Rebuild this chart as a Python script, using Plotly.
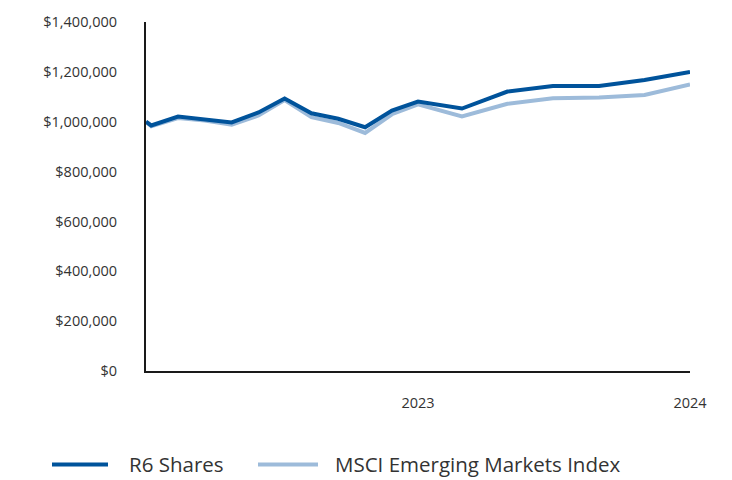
import plotly.graph_objects as go

dates = ["2022-01-01", "2022-01-08", "2022-02-13", "2022-03-21", "2022-04-26",
         "2022-06-01", "2022-07-06", "2022-08-11", "2022-09-16", "2022-10-22",
         "2022-11-27", "2023-01-01", "2023-03-01", "2023-05-01", "2023-07-01",
         "2023-09-01", "2023-11-01", "2024-01-01"]
r6_shares = [1000000, 985000, 1021000, 1010000, 997000, 1037000, 1093000, 1034000,
             1012000, 978000, 1045000, 1081000, 1053000, 1121000, 1143000, 1143000,
             1167000, 1200000]
msci_em = [1000000, 982000, 1015000, 1005000, 988000, 1025000, 1087000, 1018000,
           995000, 955000, 1030000, 1070000, 1021000, 1072000, 1094000, 1097000,
           1107000, 1149000]
y_ticks = [0, 200000, 400000, 600000, 800000, 1000000, 1200000, 1400000]
y_tick_labels = ["$" + format(v, ",") for v in y_ticks]
x_ticks = ["2023-01-01", "2024-01-01"]
x_tick_labels = ["2023", "2024"]
series_names = ["R6 Shares", "MSCI Emerging Markets Index"]

DARK = "#00539B"
LIGHT = "#9DBBDA"
FONT = "Open Sans, Noto Sans, sans-serif"

fig = go.Figure()
fig.add_trace(go.Scatter(x=dates, y=msci_em, mode="lines", name=series_names[1],
                         line=dict(color=LIGHT, width=4), showlegend=False))
fig.add_trace(go.Scatter(x=dates, y=r6_shares, mode="lines", name=series_names[0],
                         line=dict(color=DARK, width=4), showlegend=False))

W, H = 732, 480
L, R, T, B = 146, 42, 20, 109
pw = W - L - R
ph = H - T - B

def px_x(p):
    return (p - L) / pw

def px_y(p):
    return (H - B - p) / ph

fig.update_layout(
    width=W, height=H,
    margin=dict(l=L, r=R, t=T, b=B),
    paper_bgcolor="white", plot_bgcolor="white",
    font=dict(family=FONT, size=14, color="#333333"),
    xaxis=dict(type="date", range=["2022-01-01", "2024-01-01"],
               tickvals=x_ticks, ticktext=x_tick_labels, showgrid=False,
               showline=True, linecolor="#1a1a1a", linewidth=2,
               ticks="", ticklabelstandoff=18, zeroline=False,
               tickfont=dict(size=14.5, color="#333333")),
    yaxis=dict(range=[0, 1400000], tickvals=y_ticks, ticktext=y_tick_labels,
               showgrid=False, showline=True,
               linecolor="#1a1a1a", linewidth=2, ticks="",
               ticklabelstandoff=24, zeroline=False,
               tickfont=dict(size=14.5, color="#333333")),
)

# manual legend
legend_items = [(52, 108, 127, DARK, series_names[0]),
                (258, 318, 333, LIGHT, series_names[1])]
ly = 465
for x0, x1, tx, col, name in legend_items:
    fig.add_shape(type="line", xref="paper", yref="paper",
                  x0=px_x(x0), x1=px_x(x1), y0=px_y(ly), y1=px_y(ly),
                  line=dict(color=col, width=4))
    fig.add_annotation(xref="paper", yref="paper", x=px_x(tx), y=px_y(ly),
                       text=name, showarrow=False, xanchor="left", yanchor="middle",
                       font=dict(family=FONT, size=20.5, color="#333333"))

fig.write_html("out.html", config={"displayModeBar": False},
               post_script="document.body.style.margin='0';")
